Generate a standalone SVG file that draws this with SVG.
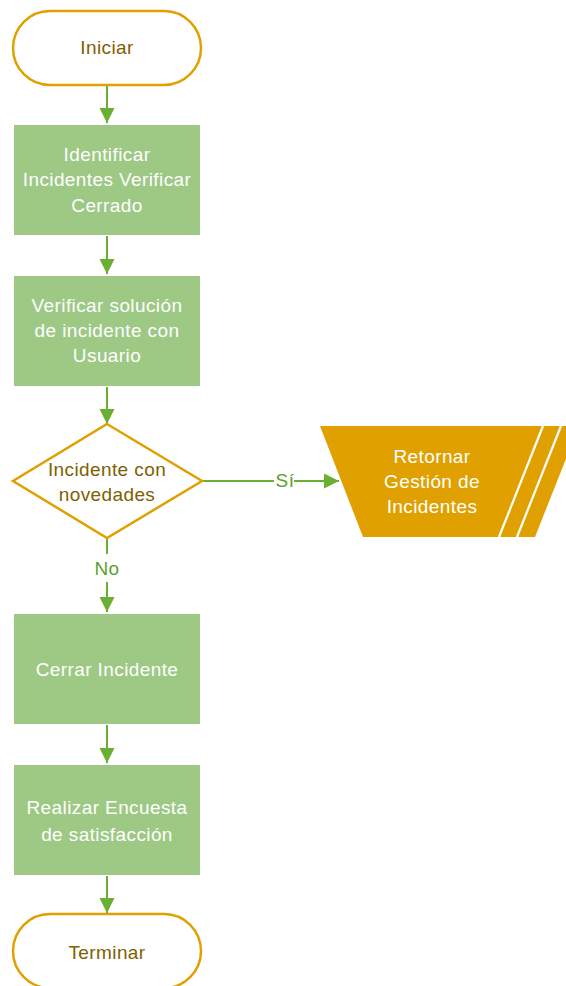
<svg xmlns="http://www.w3.org/2000/svg" width="566" height="986" viewBox="0 0 566 986">
  <style>
    text { font-family: "Liberation Sans", Arial, sans-serif; font-size: 19px; letter-spacing: 0.4px; text-anchor: middle; }
    .term { fill: #ffffff; stroke: #E0A100; stroke-width: 2.5; }
    .proc { fill: #9DC985; }
    .dec { fill: #ffffff; stroke: #E0A100; stroke-width: 2.5; }
    .dark { fill: #7F6000; }
    .light { fill: #ffffff; }
    .flow { fill: none; stroke: #6AAE32; stroke-width: 2; }
    .lbl { fill: #5E9E2F; }
  </style>
  <defs>
    <marker id="arrow" markerUnits="userSpaceOnUse" markerWidth="16" markerHeight="16" viewBox="0 0 16 16" refX="15" refY="8" orient="auto">
      <path d="M0,0.5 L15,8 L0,15.5 Z" fill="#6AAE32"/>
    </marker>
  </defs>
  <rect width="566" height="986" fill="#ffffff"/>

  <!-- connectors -->
  <g id="connectors">
    <line class="flow" x1="107" y1="86" x2="107" y2="123" marker-end="url(#arrow)"/>
    <line class="flow" x1="107" y1="236" x2="107" y2="274" marker-end="url(#arrow)"/>
    <line class="flow" x1="107" y1="387" x2="107" y2="424" marker-end="url(#arrow)"/>
    <line class="flow" x1="202" y1="481" x2="274" y2="481"/>
    <line class="flow" x1="294" y1="481" x2="339" y2="481" marker-end="url(#arrow)"/>
    <text class="lbl" x="285" y="487">Sí</text>
    <line class="flow" x1="107" y1="538" x2="107" y2="554"/>
    <line class="flow" x1="107" y1="582" x2="107" y2="612" marker-end="url(#arrow)"/>
    <text class="lbl" x="107" y="575">No</text>
    <line class="flow" x1="107" y1="725" x2="107" y2="763" marker-end="url(#arrow)"/>
    <line class="flow" x1="107" y1="876" x2="107" y2="913" marker-end="url(#arrow)"/>
  </g>

  <!-- start -->
  <g id="start">
    <rect class="term" x="13" y="11" width="188" height="74" rx="37" ry="37"/>
    <text class="dark" x="107" y="54">Iniciar</text>
  </g>

  <!-- step 1 -->
  <g id="identify">
    <rect class="proc" x="14" y="125" width="186" height="110"/>
    <text class="light" x="107" y="161">Identificar</text>
    <text class="light" x="107" y="186">Incidentes Verificar</text>
    <text class="light" x="107" y="212">Cerrado</text>
  </g>

  <!-- step 2 -->
  <g id="verify">
    <rect class="proc" x="14" y="276" width="186" height="110"/>
    <text class="light" x="107" y="312">Verificar solución</text>
    <text class="light" x="107" y="337">de incidente con</text>
    <text class="light" x="107" y="362">Usuario</text>
  </g>

  <!-- decision -->
  <g id="decision">
    <polygon class="dec" points="107,424 202,481 107,538 13,481"/>
    <text class="dark" x="107" y="476">Incidente con</text>
    <text class="dark" x="107" y="501">novedades</text>
  </g>

  <!-- off-page reference -->
  <g id="return">
    <polygon points="320,426 579,426 535,537 363,537" fill="#E0A100"/>
    <line x1="543" y1="426" x2="499" y2="537" stroke="#ffffff" stroke-width="2.2"/>
    <line x1="561" y1="426" x2="517" y2="537" stroke="#ffffff" stroke-width="2.2"/>
    <text class="light" x="432" y="463">Retornar</text>
    <text class="light" x="432" y="488">Gestión de</text>
    <text class="light" x="432" y="513">Incidentes</text>
  </g>

  <!-- step 3 -->
  <g id="close">
    <rect class="proc" x="14" y="614" width="186" height="110"/>
    <text class="light" x="107" y="676">Cerrar Incidente</text>
  </g>

  <!-- step 4 -->
  <g id="survey">
    <rect class="proc" x="14" y="765" width="186" height="110"/>
    <text class="light" x="107" y="814">Realizar Encuesta</text>
    <text class="light" x="107" y="841">de satisfacción</text>
  </g>

  <!-- end -->
  <g id="end">
    <rect class="term" x="13" y="914" width="188" height="74" rx="37" ry="37"/>
    <text class="dark" x="107" y="959">Terminar</text>
  </g>
</svg>
